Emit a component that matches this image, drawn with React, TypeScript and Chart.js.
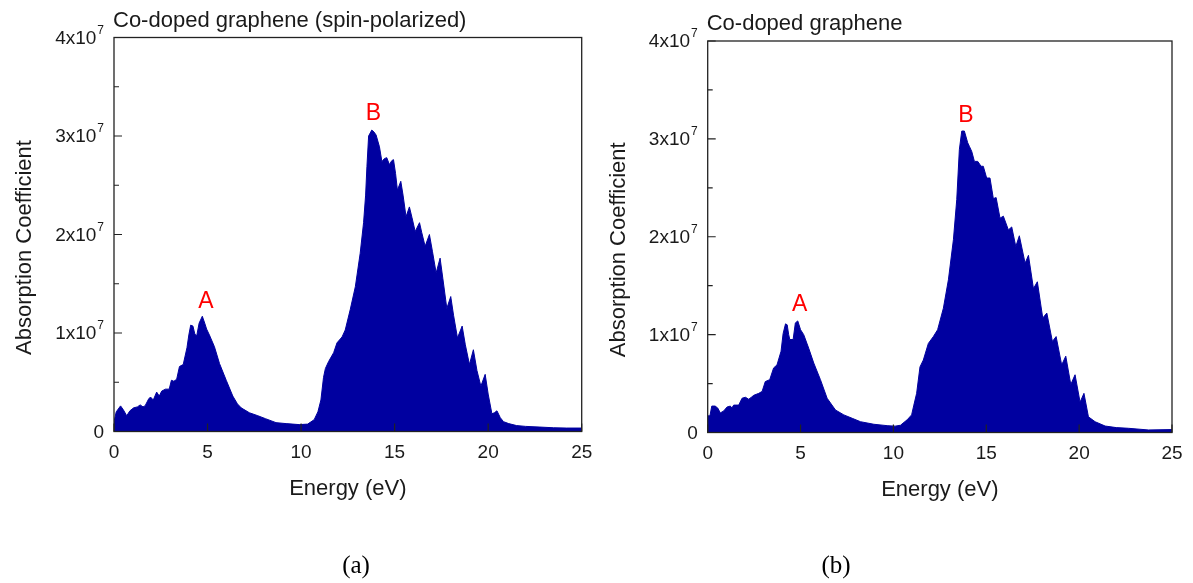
import React, { useEffect, useRef } from 'react';
import { Chart, registerables } from 'chart.js';

Chart.register(...registerables);

// ---------- data (absorption in units of 1x10^7) ----------
const energyA = [0, 0.12, 0.35, 0.5, 0.68, 0.85, 1.05, 1.25, 1.4, 1.55, 1.66, 1.85, 1.95, 2.1, 2.28, 2.42, 2.55, 2.75, 2.95, 3.07, 3.2, 3.35, 3.5, 3.7, 3.9, 4.0, 4.1, 4.22, 4.32, 4.42, 4.55, 4.72, 4.85, 4.95, 5.1, 5.37, 5.64, 6.0, 6.35, 6.6, 6.8, 7.24, 7.69, 8.1, 8.66, 9.2, 9.9, 10.35, 10.7, 10.9, 11.06, 11.2, 11.3, 11.47, 11.74, 11.92, 12.19, 12.36, 12.63, 12.9, 13.16, 13.34, 13.45, 13.52, 13.61, 13.78, 13.9, 14.01, 14.19, 14.32, 14.45, 14.58, 14.72, 14.85, 14.94, 15.05, 15.15, 15.33, 15.45, 15.61, 15.79, 15.93, 16.1, 16.33, 16.45, 16.63, 16.86, 17.02, 17.22, 17.43, 17.58, 17.79, 18.0, 18.15, 18.36, 18.61, 18.78, 19.0, 19.21, 19.4, 19.61, 19.84, 20.0, 20.2, 20.33, 20.47, 20.65, 20.82, 21.1, 21.52, 22.0, 22.77, 23.5, 24.2, 25];
const absorptionA = [0.10, 0.20, 0.26, 0.22, 0.16, 0.21, 0.24, 0.25, 0.27, 0.25, 0.26, 0.33, 0.35, 0.32, 0.40, 0.36, 0.41, 0.43, 0.43, 0.52, 0.51, 0.53, 0.66, 0.68, 0.85, 0.98, 1.08, 1.07, 0.99, 0.97, 1.10, 1.17, 1.10, 1.04, 0.98, 0.86, 0.69, 0.52, 0.36, 0.28, 0.24, 0.19, 0.16, 0.13, 0.09, 0.08, 0.07, 0.075, 0.12, 0.20, 0.32, 0.55, 0.64, 0.71, 0.80, 0.90, 0.96, 1.03, 1.24, 1.47, 1.81, 2.12, 2.40, 2.69, 3.00, 3.06, 3.04, 3.01, 2.89, 2.74, 2.77, 2.78, 2.71, 2.75, 2.76, 2.62, 2.45, 2.54, 2.40, 2.18, 2.28, 2.17, 2.03, 2.12, 2.02, 1.88, 2.00, 1.83, 1.61, 1.76, 1.55, 1.25, 1.37, 1.18, 0.95, 1.07, 0.88, 0.68, 0.83, 0.62, 0.46, 0.58, 0.38, 0.18, 0.19, 0.21, 0.14, 0.10, 0.08, 0.06, 0.052, 0.045, 0.038, 0.035, 0.035];

const energyB = [0, 0.12, 0.22, 0.4, 0.54, 0.68, 0.86, 1.04, 1.22, 1.3, 1.4, 1.67, 1.85, 2.03, 2.21, 2.35, 2.48, 2.75, 2.93, 3.1, 3.34, 3.55, 3.73, 3.95, 4.06, 4.19, 4.28, 4.36, 4.42, 4.6, 4.72, 4.85, 5.0, 5.17, 5.44, 5.71, 6.07, 6.43, 6.88, 7.33, 7.78, 8.23, 8.95, 9.66, 10.09, 10.38, 10.74, 10.98, 11.1, 11.25, 11.43, 11.61, 11.88, 12.15, 12.38, 12.69, 12.96, 13.23, 13.41, 13.55, 13.68, 13.82, 14.0, 14.1, 14.22, 14.36, 14.54, 14.72, 14.84, 15.02, 15.2, 15.38, 15.53, 15.74, 15.92, 16.19, 16.37, 16.59, 16.78, 17.09, 17.27, 17.54, 17.75, 18.04, 18.26, 18.56, 18.76, 19.06, 19.28, 19.55, 19.78, 20.05, 20.26, 20.5, 20.86, 21.4, 22.0, 22.65, 23.73, 25];
const absorptionB = [0.17, 0.17, 0.27, 0.27, 0.25, 0.20, 0.22, 0.26, 0.27, 0.25, 0.28, 0.28, 0.35, 0.36, 0.34, 0.36, 0.38, 0.40, 0.42, 0.52, 0.54, 0.66, 0.69, 0.83, 1.01, 1.11, 1.10, 1.00, 0.95, 0.95, 1.12, 1.14, 1.05, 1.00, 0.86, 0.71, 0.54, 0.35, 0.23, 0.18, 0.145, 0.11, 0.084, 0.07, 0.065, 0.074, 0.13, 0.18, 0.28, 0.40, 0.67, 0.74, 0.91, 0.98, 1.05, 1.27, 1.56, 1.97, 2.38, 2.89, 3.08, 3.08, 2.96, 2.92, 2.87, 2.77, 2.77, 2.72, 2.72, 2.60, 2.60, 2.39, 2.40, 2.19, 2.21, 2.07, 2.10, 1.90, 2.01, 1.73, 1.81, 1.47, 1.54, 1.17, 1.22, 0.93, 0.98, 0.69, 0.78, 0.49, 0.59, 0.31, 0.40, 0.16, 0.11, 0.066, 0.05, 0.043, 0.026, 0.03];

const xTicks = [0, 5, 10, 15, 20, 25];
const yTicks = [0, 1, 2, 3, 4];
const yMinorTicks = [0.5, 1.5, 2.5, 3.5];
const yTickMantissa = ['0', '1x10', '2x10', '3x10', '4x10'];
const yTickExponent = ['', '7', '7', '7', '7'];
const panelTitles = ['Co-doped graphene (spin-polarized)', 'Co-doped graphene'];
const captions = ['(a)', '(b)'];
const xAxisTitle = 'Energy (eV)';
const yAxisTitle = 'Absorption Coefficient';
const peakNames = ['A', 'B'];
const peakEnergyA = [4.91, 13.87];
const peakHeightA = [1.32, 3.23];
const peakEnergyB = [4.95, 13.91];
const peakHeightB = [1.31, 3.24];

// ---------- styles ----------
const SANS = '"Liberation Sans", Arial, sans-serif';
const SERIF = '"Liberation Serif", "Times New Roman", serif';
const FILL = '#0000a0';
const INK = '#1a1a1a';

const decorPlugin = {
  id: 'decor',
  afterDraw(chart: any, _args: any, opts: any) {
    const { ctx, chartArea: ca, scales } = chart;
    const x = scales.x;
    const y = scales.y;
    ctx.save();
    // frame
    ctx.strokeStyle = '#222';
    ctx.lineWidth = 1.3;
    ctx.strokeRect(ca.left, ca.top, ca.right - ca.left, ca.bottom - ca.top);
    // ticks (inward)
    ctx.lineWidth = 1.2;
    ctx.beginPath();
    yTicks.forEach((v) => {
      const py = y.getPixelForValue(v);
      ctx.moveTo(ca.left, py);
      ctx.lineTo(ca.left + 8, py);
    });
    yMinorTicks.forEach((v) => {
      const py = y.getPixelForValue(v);
      ctx.moveTo(ca.left, py);
      ctx.lineTo(ca.left + 5, py);
    });
    xTicks.forEach((v) => {
      const px = x.getPixelForValue(v);
      ctx.moveTo(px, ca.bottom);
      ctx.lineTo(px, ca.bottom - 8);
    });
    ctx.stroke();

    ctx.fillStyle = INK;
    // y tick labels with superscript
    const tickFont = `19px ${SANS}`;
    const supFont = `12px ${SANS}`;
    yTicks.forEach((v, i) => {
      const py = y.getPixelForValue(v);
      const mant = yTickMantissa[i];
      const exp = yTickExponent[i];
      ctx.font = tickFont;
      const mw = ctx.measureText(mant).width;
      ctx.font = supFont;
      const ew = exp ? ctx.measureText(exp).width + 1 : 0;
      const right = ca.left - 10;
      ctx.textAlign = 'left';
      ctx.textBaseline = 'middle';
      ctx.font = tickFont;
      ctx.fillText(mant, right - ew - mw, py + 1);
      if (exp) {
        ctx.font = supFont;
        ctx.fillText(exp, right - ew + 1, py - 7);
      }
    });
    // x tick labels
    ctx.font = tickFont;
    ctx.textAlign = 'center';
    ctx.textBaseline = 'middle';
    xTicks.forEach((v) => {
      ctx.fillText(String(v), x.getPixelForValue(v), ca.bottom + 21);
    });
    // axis titles
    const titleFont = `22px ${SANS}`;
    ctx.font = titleFont;
    ctx.fillText(xAxisTitle, (ca.left + ca.right) / 2, ca.bottom + 57);
    ctx.save();
    ctx.translate(ca.left - 89, (ca.top + ca.bottom) / 2 + 13);
    ctx.rotate(-Math.PI / 2);
    ctx.fillText(yAxisTitle, 0, 0);
    ctx.restore();
    // panel title
    ctx.textAlign = 'left';
    ctx.textBaseline = 'alphabetic';
    ctx.fillText(opts.title, ca.left - 1, ca.top - 11);
    // peak labels
    ctx.fillStyle = '#ff0000';
    ctx.font = `23px ${SANS}`;
    ctx.textAlign = 'center';
    ctx.textBaseline = 'middle';
    opts.peakE.forEach((e: number, i: number) => {
      ctx.fillText(peakNames[i], x.getPixelForValue(e), y.getPixelForValue(opts.peakH[i]));
    });
    // caption
    ctx.fillStyle = '#000';
    ctx.font = `25px ${SERIF}`;
    ctx.fillText(opts.caption, opts.captionX, 566);
    ctx.restore();
  },
};

function makeChart(canvas: HTMLCanvasElement, energy: number[], values: number[], opts: any, padding: any) {
  const points = energy.map((e, i) => ({ x: e, y: values[i] }));
  return new Chart(canvas, {
    type: 'line',
    data: {
      datasets: [
        {
          data: points,
          borderColor: FILL,
          backgroundColor: FILL,
          borderWidth: 1,
          pointRadius: 0,
          tension: 0,
          fill: 'origin',
        },
      ],
    },
    options: {
      responsive: false,
      animation: false,
      devicePixelRatio: 1,
      layout: { padding },
      scales: {
        x: { type: 'linear', min: 0, max: 25, display: false },
        y: { type: 'linear', min: 0, max: 4, display: false },
      },
      plugins: {
        legend: { display: false },
        tooltip: { enabled: false },
        decor: opts,
      } as any,
    },
    plugins: [decorPlugin],
  } as any);
}

export default function App() {
  const leftRef = useRef<HTMLCanvasElement>(null);
  const rightRef = useRef<HTMLCanvasElement>(null);

  useEffect(() => {
    const a = makeChart(
      leftRef.current!,
      energyA,
      absorptionA,
      { title: panelTitles[0], caption: captions[0], captionX: 356, peakE: peakEnergyA, peakH: peakHeightA },
      { left: 114, right: 14.3, top: 37.5, bottom: 151.5 }
    );
    const b = makeChart(
      rightRef.current!,
      energyB,
      absorptionB,
      { title: panelTitles[1], caption: captions[1], captionX: 836 - 596, peakE: peakEnergyB, peakH: peakHeightB },
      { left: 111.7, right: 21, top: 41, bottom: 150.5 }
    );
    return () => {
      a.destroy();
      b.destroy();
    };
  }, []);

  return (
    <div style={{ position: 'absolute', left: 0, top: 0, width: 1193, height: 583, background: '#fff' }}>
      <canvas ref={leftRef} width={596} height={583} style={{ position: 'absolute', left: 0, top: 0 }} />
      <canvas ref={rightRef} width={597} height={583} style={{ position: 'absolute', left: 596, top: 0 }} />
    </div>
  );
}
